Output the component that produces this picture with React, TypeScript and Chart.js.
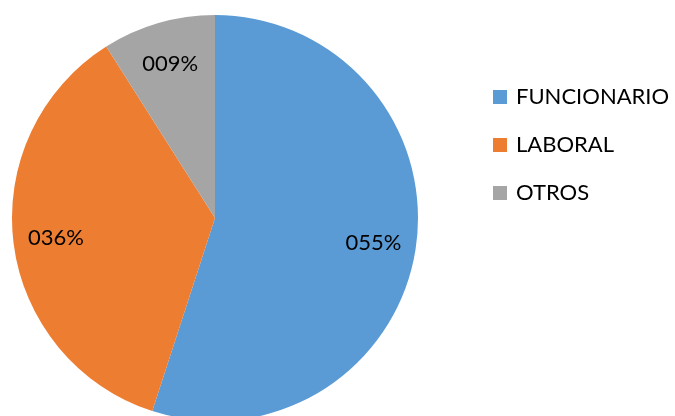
import React, { useEffect, useRef } from "react";
import { Chart, registerables } from "chart.js";

Chart.register(...registerables);

const categories = ["FUNCIONARIO", "LABORAL", "OTROS"];
const values = [55, 36, 9];
const colors = ["#5B9BD5", "#ED7D31", "#A5A5A5"];
const FONT = "Lato";

const labelPlugin = {
  id: "sliceLabels",
  afterDatasetsDraw(chart: any) {
    const ctx = chart.ctx;
    const meta = chart.getDatasetMeta(0);
    const total = values.reduce((a, b) => a + b, 0);
    ctx.save();
    ctx.font = `22px ${FONT}`;
    ctx.fillStyle = "#000";
    ctx.textAlign = "center";
    ctx.textBaseline = "middle";
    meta.data.forEach((arc: any, i: number) => {
      const { x, y, startAngle, endAngle, outerRadius } = arc.getProps(
        ["x", "y", "startAngle", "endAngle", "outerRadius"],
        true
      );
      const mid = (startAngle + endAngle) / 2;
      const r = outerRadius * 0.79;
      const pct = Math.round((values[i] / total) * 100);
      const txt = String(pct).padStart(3, "0") + "%";
      ctx.fillText(txt, x + Math.cos(mid) * r, y + Math.sin(mid) * r);
    });
    ctx.restore();
  },
};

const legendPlugin = {
  id: "customLegend",
  afterDraw(chart: any) {
    const ctx = chart.ctx;
    ctx.save();
    ctx.font = `22px ${FONT}`;
    ctx.textBaseline = "middle";
    ctx.textAlign = "left";
    categories.forEach((c, i) => {
      const cy = 97 + i * 48;
      ctx.fillStyle = colors[i];
      ctx.fillRect(493, cy - 7, 14, 14);
      ctx.fillStyle = "#000";
      ctx.fillText(c, 516, cy);
    });
    ctx.restore();
  },
};

export default function App() {
  const ref = useRef<HTMLCanvasElement>(null);
  useEffect(() => {
    document.body.style.margin = "0";
    const chart = new Chart(ref.current!, {
      type: "pie",
      data: {
        labels: categories,
        datasets: [
          {
            data: values,
            backgroundColor: colors,
            borderWidth: 0,
          },
        ],
      },
      options: {
        animation: false,
        responsive: false,
        maintainAspectRatio: false,
        layout: { padding: { left: 12, right: 257, top: 15, bottom: 1 } },
        plugins: {
          legend: { display: false },
          tooltip: { enabled: false },
        },
      },
      plugins: [labelPlugin, legendPlugin],
    });
    return () => chart.destroy();
  }, []);
  return (
    <div style={{ width: 675, height: 416, overflow: "hidden", position: "relative", background: "#fff" }}>
      <canvas ref={ref} width={675} height={422} style={{ display: "block" }} />
    </div>
  );
}
